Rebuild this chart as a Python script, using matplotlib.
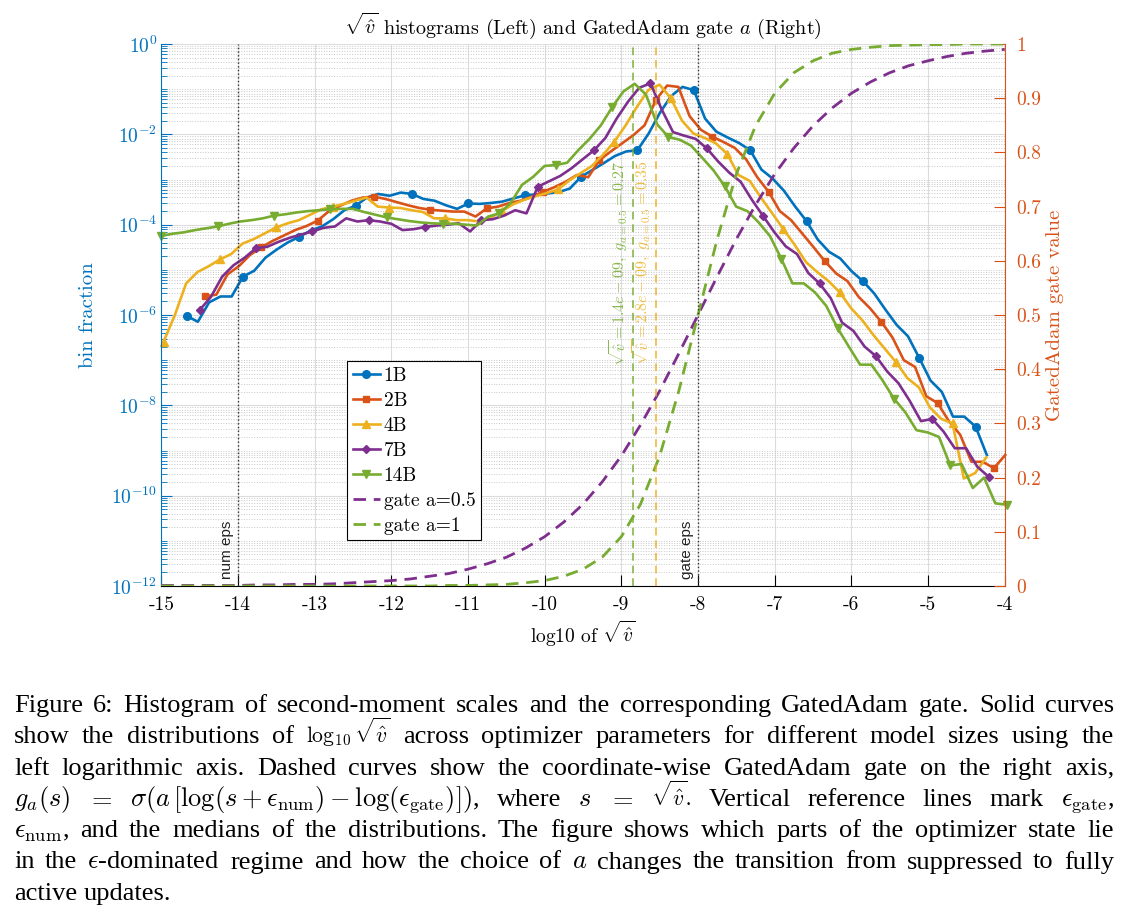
import numpy as np
import matplotlib
matplotlib.use("Agg")
import matplotlib.pyplot as plt
from matplotlib.ticker import FixedLocator, LogLocator, NullFormatter, FuncFormatter

plt.rcParams['font.family'] = ['cmr10', 'DejaVu Serif']
plt.rcParams['mathtext.fontset'] = 'cm'
plt.rcParams['axes.unicode_minus'] = False
plt.rcParams['axes.formatter.use_mathtext'] = True

W, H = 1129, 914

# MATLAB default colours
C_BLUE = '#0072BD'
C_ORANGE = '#D95319'
C_YELLOW = '#EDB120'
C_PURPLE = '#7E2F8E'
C_GREEN = '#77AC30'

# histogram bins: width in log10 units, first bin centre, log10(bin fraction)
STEP = 0.147

B1_START = -14.67
B1_LOG = [-6.02, -6.15, -5.72, -5.59, -5.59, -5.15, -5.02, -4.73, -4.55, -4.39,
          -4.27, -4.13, -4.04, -3.88, -3.68, -3.58, -3.40, -3.32, -3.36, -3.29,
          -3.32, -3.43, -3.47, -3.57, -3.65, -3.53, -3.54, -3.52, -3.49, -3.42,
          -3.35, -3.33, -3.31, -3.28, -3.20, -2.94, -2.79, -2.64, -2.48, -2.38,
          -2.35, -1.98, -1.52, -1.15, -0.95, -1.02, -1.65, -1.94, -2.07, -2.19,
          -2.35, -2.78, -2.98, -3.25, -3.60, -3.92, -4.33, -4.60, -4.75, -5.03,
          -5.25, -5.52, -5.88, -6.22, -6.47, -6.95, -7.45, -7.70, -8.25, -8.25,
          -8.47, -9.10]

B2_START = -14.43
B2_LOG = [-5.59, -5.55, -5.10, -4.92, -4.67, -4.50, -4.36, -4.24, -4.12, -4.03,
          -3.91, -3.70, -3.58, -3.47, -3.40, -3.38, -3.43, -3.50, -3.57, -3.63,
          -3.67, -3.69, -3.71, -3.71, -3.82, -3.64, -3.60, -3.52, -3.47, -3.38,
          -3.27, -3.17, -3.05, -2.90, -2.95, -2.57, -2.38, -2.20, -2.02, -1.80,
          -1.24, -0.92, -0.95, -1.60, -1.90, -2.05, -2.17, -2.30, -2.55, -2.95,
          -3.27, -3.70, -3.90, -4.20, -4.50, -4.81, -5.08, -5.25, -5.60, -5.85,
          -6.15, -6.50, -7.00, -7.15, -7.80, -7.95, -8.35, -8.65, -9.25, -9.25,
          -9.39, -9.10]

B4_START = -14.97
B4_LOG = [-6.59, -6.00, -5.30, -5.05, -4.92, -4.77, -4.65, -4.42, -4.32, -4.19,
          -4.06, -3.97, -3.90, -3.78, -3.66, -3.60, -3.54, -3.47, -3.40, -3.60,
          -3.62, -3.63, -3.68, -3.72, -3.86, -3.86, -3.90, -3.90, -3.93, -3.85,
          -3.70, -3.55, -3.45, -3.37, -3.30, -3.22, -3.02, -2.86, -2.70, -2.45,
          -2.16, -1.80, -1.39, -1.02, -0.90, -1.20, -1.70, -1.98, -2.08, -2.20,
          -2.43, -2.90, -3.03, -3.40, -3.75, -4.10, -4.45, -4.83, -5.05, -5.25,
          -5.50, -5.85, -6.12, -6.45, -6.75, -7.05, -7.40, -7.60, -8.05, -8.30,
          -8.40, -9.62, -9.50, -9.15]

B7_START = -14.50
B7_LOG = [-5.89, -5.60, -5.15, -4.90, -4.73, -4.52, -4.49, -4.38, -4.29, -4.22,
          -4.15, -4.07, -4.04, -3.86, -3.93, -3.90, -3.93, -3.98, -4.12, -4.10,
          -4.05, -4.02, -4.00, -3.97, -4.15, -3.90, -3.88, -3.80, -3.68, -3.75,
          -3.16, -3.04, -2.92, -2.75, -2.55, -2.35, -2.08, -1.65, -1.28, -0.97,
          -0.87, -1.45, -1.95, -2.03, -2.10, -2.31, -2.60, -2.85, -3.05, -3.45,
          -3.81, -4.17, -4.48, -4.65, -5.07, -5.30, -5.63, -6.17, -6.35, -6.70,
          -6.91, -7.25, -7.51, -7.90, -8.35, -8.30, -8.58, -8.95, -8.95, -9.36,
          -9.58]

B14_START = -15.0
B14_LOG = [-4.25, -4.20, -4.17, -4.12, -4.08, -4.04, -3.98, -3.93, -3.90, -3.86,
           -3.80, -3.77, -3.73, -3.70, -3.68, -3.66, -3.65, -3.65, -3.72, -3.78,
           -3.84, -3.88, -3.92, -3.95, -3.97, -3.98, -3.98, -4.00, -4.02, -3.82,
           -3.75, -3.52, -3.12, -2.94, -2.70, -2.68, -2.63, -2.35, -2.10, -1.80,
           -1.40, -1.05, -0.88, -1.12, -1.78, -2.06, -2.12, -2.25, -2.52, -2.80,
           -3.15, -3.60, -3.70, -3.95, -4.25, -4.75, -5.30, -5.30, -5.50, -5.80,
           -6.29, -6.70, -7.10, -7.10, -7.45, -7.85, -8.15, -8.55, -8.60, -8.70,
           -9.33, -9.30, -9.83, -9.60, -10.17, -10.20]

# gate curves (right axis), read every 0.25 in log10 sqrt(v)
GATE_X = np.arange(-15.0, -3.99, 0.25)
GATE_A05 = [0.001, 0.001, 0.001, 0.001, 0.001, 0.002, 0.002, 0.003, 0.003, 0.004,
            0.006, 0.008, 0.010, 0.013, 0.018, 0.023, 0.031, 0.041, 0.053, 0.070,
            0.091, 0.118, 0.151, 0.192, 0.240, 0.297, 0.360, 0.429, 0.500, 0.571,
            0.640, 0.703, 0.760, 0.808, 0.849, 0.882, 0.909, 0.930, 0.947, 0.960,
            0.969, 0.977, 0.983, 0.987, 0.990]
GATE_A1 = [0.000, 0.000, 0.000, 0.000, 0.000, 0.000, 0.000, 0.000, 0.000, 0.000,
           0.000, 0.000, 0.000, 0.000, 0.000, 0.001, 0.001, 0.002, 0.003, 0.006,
           0.010, 0.018, 0.031, 0.053, 0.091, 0.151, 0.240, 0.360, 0.500, 0.640,
           0.760, 0.849, 0.909, 0.947, 0.969, 0.983, 0.990, 0.994, 0.997, 0.998,
           0.999, 0.999, 1.000, 1.000, 1.000]

EPS_NUM = 1e-14
EPS_GATE = 1e-8
MEDIANS = [1.4e-9, 2.8e-9]
MEDIAN_TXT = ["1.4e-09", "2.8e-09"]
MEDIAN_GATE = [0.27, 0.35]
MEDIAN_COLORS = [C_GREEN, C_YELLOW]

CAPTION = [
    "Figure 6: Histogram of second-moment scales and the corresponding GatedAdam gate. Solid curves",
    r"show the distributions of $\log_{10}\sqrt{\hat{v}}$ across optimizer parameters for different model sizes using the",
    "left logarithmic axis. Dashed curves show the coordinate-wise GatedAdam gate on the right axis,",
    r"$g_a(s)$ $=$ $\sigma(a\,[\log(s+\epsilon_{\mathrm{num}})-\log(\epsilon_{\mathrm{gate}})])$, where $s$ $=$ $\sqrt{\hat{v}}$. Vertical reference lines mark $\epsilon_{\mathrm{gate}}$,",
    r"$\epsilon_{\mathrm{num}}$, and the medians of the distributions. The figure shows which parts of the optimizer state lie",
    r"in the $\epsilon$-dominated regime and how the choice of $a$ changes the transition from suppressed to fully",
    "active updates.",
]

fig = plt.figure(figsize=(W / 100, H / 100), dpi=100)
ax = fig.add_axes([161.3 / W, 1 - 586 / H, (1004.7 - 161.3) / W, (586 - 44) / H])
ax2 = ax.twinx()

series = [
    ("1B", B1_START, B1_LOG, C_BLUE, 'o', 5.5),
    ("2B", B2_START, B2_LOG, C_ORANGE, 's', 4.5),
    ("4B", B4_START, B4_LOG, C_YELLOW, '^', 6),
    ("7B", B7_START, B7_LOG, C_PURPLE, 'D', 4.5),
    ("14B", B14_START, B14_LOG, C_GREEN, 'v', 6),
]
handles = []
for name, x0, vals, col, mk, ms in series:
    x = x0 + STEP * np.arange(len(vals))
    h, = ax.plot(x, 10.0 ** np.array(vals), color=col, lw=1.9, marker=mk, ms=ms,
                 markevery=5, label=name, clip_on=False)
    handles.append(h)

# gates on the right axis
dash = (0, (4.5, 2.8))
h, = ax2.plot(GATE_X, GATE_A05, color=C_PURPLE, lw=2.0, ls=dash, label='gate a=0.5')
handles.append(h)
h, = ax2.plot(GATE_X, GATE_A1, color=C_GREEN, lw=2.0, ls=dash, label='gate a=1')
handles.append(h)

# reference lines
for eps, txt in [(EPS_NUM, 'num eps'), (EPS_GATE, 'gate eps')]:
    xe = np.log10(eps)
    ax2.axvline(xe, color='#333333', ls=':', lw=1.0)
    ax2.text(xe - 0.05, 0.012, txt, rotation=90, ha='right', va='bottom',
             family='Liberation Sans', fontsize=11, color='#222222')

for med, mtxt, g, col in zip(MEDIANS, MEDIAN_TXT, MEDIAN_GATE, MEDIAN_COLORS):
    xm = np.log10(med)
    ax2.axvline(xm, color=col, alpha=0.75, ls=(0, (4, 2.5)), lw=1.4)
    lab = r"$\sqrt{\hat{v}} = %s,\ g_{a=0.5} = %.2f$" % (mtxt, g)
    ax2.text(xm - 0.035, 0.785, lab, rotation=90, ha='right', va='top',
             color=col, alpha=0.85, fontsize=11.5)

# left axis
ax.set_xlim(-15, -4)
ax.set_yscale('log')
ax.set_ylim(1e-12, 1)
ax.yaxis.set_major_locator(FixedLocator(10.0 ** np.arange(-12, 1, 2)))
ax.yaxis.set_minor_locator(LogLocator(base=10, subs=np.arange(1, 10), numticks=100))
ax.yaxis.set_minor_formatter(NullFormatter())
ax.set_xticks(np.arange(-15, -3, 1))
ax.xaxis.set_major_formatter(FuncFormatter(lambda v, p: "%d" % v))

ax.set_axisbelow(True)
ax.grid(which='major', color='#dcdcdc', lw=0.8)
ax.grid(which='minor', axis='y', color='#c8c8c8', ls=':', lw=0.7)

ax.tick_params(axis='both', which='both', direction='in')
ax.tick_params(axis='y', which='major', length=8, colors=C_BLUE, labelsize=14, pad=3)
ax.tick_params(axis='y', which='minor', length=4, color=C_BLUE)
ax.tick_params(axis='x', length=8, labelsize=14, pad=7)

ax2.set_ylim(0, 1)
ax2.set_yticks(np.arange(0, 1.01, 0.1))
ax2.yaxis.set_major_formatter(FuncFormatter(lambda v, p: "%g" % round(v, 1)))
ax2.tick_params(axis='y', direction='in', length=8, colors=C_ORANGE, labelsize=14, pad=8)

for s in ['top', 'right']:
    ax.spines[s].set_visible(False)
for s in ['top', 'left', 'bottom']:
    ax2.spines[s].set_visible(False)
ax.spines['left'].set_color(C_BLUE)
ax2.spines['right'].set_color(C_ORANGE)

ax.set_xlabel(r'log10 of $\sqrt{\hat{v}}$', fontsize=14, labelpad=4)
ax.set_ylabel('bin fraction', color=C_BLUE, fontsize=15, labelpad=10)
ax2.set_ylabel('GatedAdam gate value', color=C_ORANGE, fontsize=15, labelpad=4)
ax.set_title(r'$\sqrt{\hat{v}}$ histograms (Left) and GatedAdam gate $a$ (Right)',
             fontsize=14.5, pad=7)

leg = ax2.legend(handles, [hh.get_label() for hh in handles], loc='upper left',
                 bbox_to_anchor=(0.220, 0.415), fontsize=14, frameon=True,
                 fancybox=False, edgecolor='k', framealpha=1, borderpad=0.3,
                 labelspacing=0.36, handlelength=1.4, handletextpad=0.2,
                 borderaxespad=0)
leg.get_frame().set_linewidth(0.8)

# caption, justified line by line
CAP_FS = 19
fig.canvas.draw()
rend = fig.canvas.get_renderer()
X0, X1 = 14, 1114
for i, line in enumerate(CAPTION):
    y = 1 - (712 + 31.3 * i) / H
    words = []
    for w in line.split(' '):
        fs = CAP_FS * 0.82 if '\\sqrt' in w else CAP_FS
        words.append(fig.text(0, y, w, fontsize=fs, family='Liberation Serif',
                              va='baseline'))
    widths = [t.get_window_extent(rend).width for t in words]
    if i < len(CAPTION) - 1:
        gap = max((X1 - X0 - sum(widths)) / (len(words) - 1), 2.0)
    else:
        gap = 0.25 * CAP_FS * 100 / 72
    x = X0
    for t, w in zip(words, widths):
        t.set_x(x / W)
        x += w + gap

fig.savefig('out.png', dpi=100)
